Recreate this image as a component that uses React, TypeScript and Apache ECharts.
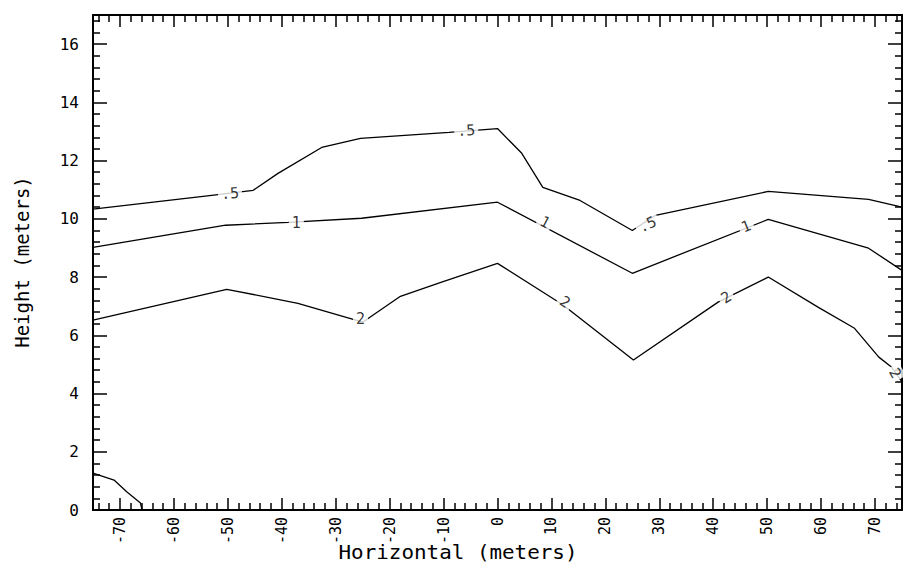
import React, { useEffect, useRef } from "react";
import * as echarts from "echarts";

// Contour ".5"
const c05X = [-75, -53.4, -45.3, -40.7, -32.6, -25.4, -9, 0, 4.5, 8.4, 15.3, 25, 29.3, 50.2, 68.8, 75];
const c05Y = [10.33, 10.8, 10.98, 11.56, 12.45, 12.76, 12.97, 13.1, 12.25, 11.08, 10.63, 9.6, 10.12, 10.94, 10.67, 10.4];
// Contour "1"
const c1X = [-75, -50.4, -38.8, -25.2, 0, 25, 50.2, 68.8, 75];
const c1Y = [9.02, 9.78, 9.88, 10.02, 10.57, 8.13, 9.98, 8.99, 8.23];
// Contour "2"
const c2X = [-75, -50.2, -37, -25, -18, -10.5, 0, 12.1, 25.2, 40.9, 50.2, 59.5, 66.2, 70.7, 73.1, 75];
const c2Y = [6.52, 7.58, 7.1, 6.45, 7.34, 7.82, 8.47, 7.05, 5.15, 7.14, 8.0, 6.96, 6.24, 5.25, 4.9, 4.4];
// Unlabelled contour at the lower-left corner
const c5X = [-75, -71.1, -68.7, -66.2, -65.9];
const c5Y = [1.27, 1.03, 0.62, 0.24, 0];

// Inline contour labels
const labelText = [".5", ".5", ".5", "1", "1", "1", "2", "2", "2", "2"];
const labelX = [-49.6, -5.8, 27.8, -37.3, 8.8, 46.1, -25.4, 12.5, 42.4, 73.7];
const labelY = [10.87, 13.03, 9.81, 9.85, 9.88, 9.74, 6.55, 7.14, 7.3, 4.7];
const labelRotate = [5, 3, 25, 0, -28, 22, 0, -33, 32, -60];

const xMin = -75;
const xMax = 75;
const yMin = 0;
const yMax = 17;
const yStep = 2;

const MONO = "'DejaVu Sans Mono', 'Liberation Mono', monospace";

const pairs = (xs: number[], ys: number[]) => xs.map((x, i) => [x, ys[i]]);

export default function App() {
  const ref = useRef<HTMLDivElement>(null);

  useEffect(() => {
    if (!ref.current) return;
    const chart = echarts.init(ref.current, null, { renderer: "svg" });

    const mkAxisLine = () => ({ show: true, onZero: false, lineStyle: { color: "#000", width: 2 } });
    const mkTickStyle = () => ({ color: "#000", width: 1.5 });

    const xBase = () => ({
      type: "value" as const,
      min: xMin,
      max: xMax,
      splitNumber: 15,
      axisLine: mkAxisLine(),
      axisTick: { show: true, inside: true, length: 12, lineStyle: mkTickStyle() },
      minorTick: { show: true, splitNumber: 5, length: 7, lineStyle: mkTickStyle() },
      splitLine: { show: false },
      minorSplitLine: { show: false },
    });
    const yBase = () => ({
      type: "value" as const,
      min: yMin,
      max: yMax,
      interval: yStep,
      axisLine: mkAxisLine(),
      axisTick: { show: true, inside: true, length: 14, lineStyle: mkTickStyle() },
      minorTick: { show: true, splitNumber: 5, length: 7, lineStyle: mkTickStyle() },
      splitLine: { show: false },
      minorSplitLine: { show: false },
    });

    const lineSeries = (data: number[][]) => ({
      type: "line" as const,
      data,
      symbol: "none",
      showSymbol: false,
      silent: true,
      z: 2,
      lineStyle: { color: "#000", width: 1.3 },
    });

    chart.setOption({
      animation: false,
      backgroundColor: "#fff",
      grid: { left: 93, right: 13, top: 15, bottom: 65, containLabel: false },
      xAxis: [
        {
          ...xBase(),
          position: "bottom",
          axisLabel: {
            rotate: 90,
            margin: 7,
            color: "#000",
            fontSize: 15,
            fontFamily: MONO,
            showMinLabel: false,
            showMaxLabel: false,
          },
        },
        { ...xBase(), position: "top", axisLabel: { show: false } },
      ],
      yAxis: [
        {
          ...yBase(),
          position: "left",
          axisLabel: {
            margin: 14,
            color: "#000",
            fontSize: 16,
            fontFamily: MONO,
            showMaxLabel: false,
          },
        },
        { ...yBase(), position: "right", axisLabel: { show: false } },
      ],
      series: [
        lineSeries(pairs(c05X, c05Y)),
        lineSeries(pairs(c1X, c1Y)),
        lineSeries(pairs(c2X, c2Y)),
        lineSeries(pairs(c5X, c5Y)),
        {
          type: "scatter",
          z: 5,
          silent: true,
          symbol: "circle",
          symbolSize: 1,
          itemStyle: { color: "rgba(0,0,0,0)" },
          data: labelText.map((t, i) => ({
            name: t,
            value: [labelX[i], labelY[i]],
            label: { rotate: labelRotate[i] },
          })),
          label: {
            show: true,
            position: "inside",
            formatter: (p: any) => p.name,
            color: "#000",
            fontSize: 15,
            fontFamily: MONO,
            backgroundColor: "#fff",
            padding: [1, 3],
          },
        },
      ],
      graphic: [
        {
          type: "text",
          x: 22,
          y: 262,
          rotation: Math.PI / 2,
          style: {
            text: "Height (meters)",
            font: `19px ${MONO}`,
            fill: "#000",
            align: "center",
            verticalAlign: "middle",
          },
        },
        {
          type: "text",
          x: 458,
          y: 552,
          scaleX: 1.1,
          style: {
            text: "Horizontal (meters)",
            font: `19px ${MONO}`,
            fill: "#000",
            align: "center",
            verticalAlign: "middle",
          },
        },
      ],
    });

    return () => chart.dispose();
  }, []);

  return (
    <div
      ref={ref}
      style={{ position: "fixed", left: 0, top: 0, width: 915, height: 575, background: "#fff" }}
    />
  );
}
